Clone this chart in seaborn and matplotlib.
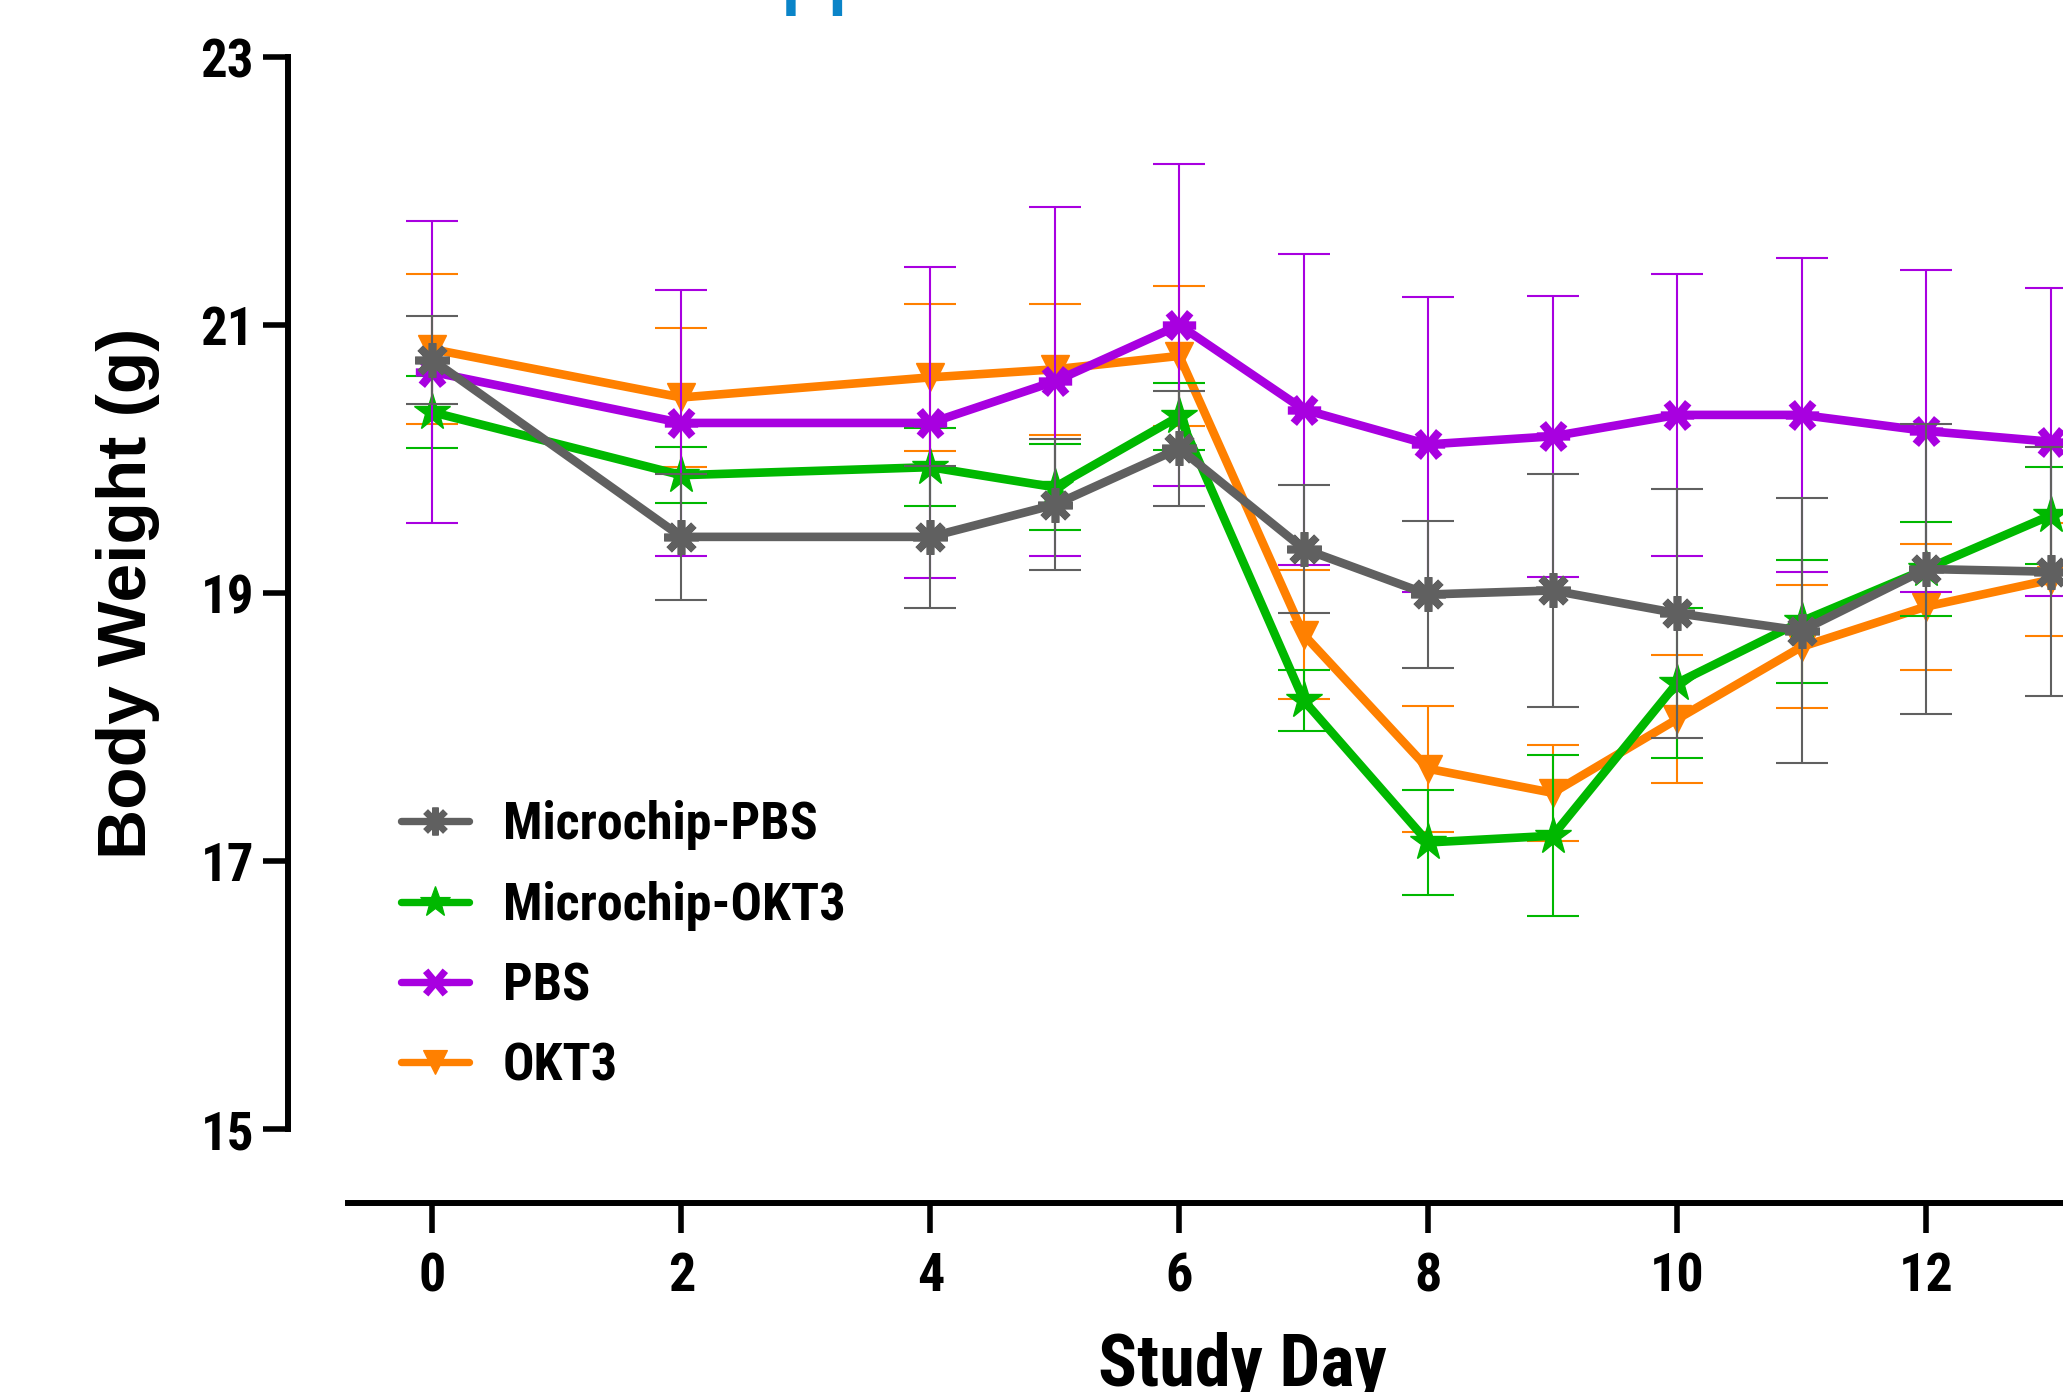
import matplotlib
matplotlib.use("Agg")
import matplotlib.pyplot as plt
from matplotlib import font_manager
from matplotlib.font_manager import FontProperties
from matplotlib.lines import Line2D
from matplotlib.path import Path
import numpy as np
import seaborn as sns
import pandas as pd

# ---------------- data ----------------
days = [0, 2, 4, 5, 6, 7, 8, 9, 10, 11, 12, 13]

mpbs_mean = [20.74, 19.42, 19.42, 19.66, 20.08, 19.33, 18.99, 19.02, 18.85, 18.72, 19.18, 19.16]
mpbs_sem = [0.33, 0.47, 0.53, 0.49, 0.43, 0.48, 0.55, 0.87, 0.93, 0.99, 1.08, 0.93]

mokt3_mean = [20.35, 19.88, 19.94, 19.79, 20.32, 18.20, 17.14, 17.19, 18.33, 18.79, 19.18, 19.58]
mokt3_sem = [0.27, 0.21, 0.29, 0.32, 0.25, 0.23, 0.39, 0.60, 0.56, 0.46, 0.35, 0.36]

pbs_mean = [20.65, 20.27, 20.27, 20.58, 21.00, 20.37, 20.11, 20.17, 20.33, 20.33, 20.21, 20.13]
pbs_sem = [1.13, 0.99, 1.16, 1.30, 1.20, 1.16, 1.10, 1.05, 1.05, 1.17, 1.20, 1.15]

okt3_mean = [20.82, 20.46, 20.61, 20.67, 20.77, 18.69, 17.69, 17.51, 18.06, 18.60, 18.90, 19.10]
okt3_sem = [0.56, 0.52, 0.55, 0.49, 0.52, 0.48, 0.47, 0.36, 0.48, 0.46, 0.47, 0.42]

group_names = ["Microchip-PBS", "Microchip-OKT3", "PBS", "OKT3"]
y_ticks = [15, 17, 19, 21, 23]
x_ticks = [0, 2, 4, 6, 8, 10, 12]

# ---------------- style ----------------
sns.set_style("white")
plt.rcParams["font.family"] = ["Liberation Sans", "DejaVu Sans"]
for k in ["text.color", "axes.labelcolor", "xtick.color", "ytick.color"]:
    plt.rcParams[k] = "black"

# look for a condensed bold face (the reference uses a narrow bold font)
narrow_file = None
for pref in ["Liberation Sans Narrow", "Roboto Condensed", "Open Sans Condensed",
             "Arial Narrow"]:
    for f in font_manager.fontManager.ttflist:
        if f.name == pref and (f.weight in ("bold", 700) or str(f.weight) == "700") \
                and f.style == "normal":
            narrow_file = f.fname
            break
    if narrow_file:
        break


def nfont(size):
    if narrow_file:
        return FontProperties(fname=narrow_file, size=size)
    return FontProperties(family=["Liberation Sans", "DejaVu Sans"],
                          weight="bold", size=size * 0.84)


# six-armed "X" symbol with a horizontal bar (as drawn in the reference)
_a = np.deg2rad(50)
x_star = Path([(-1, 0), (1, 0),
               (-np.cos(_a), -np.sin(_a)), (np.cos(_a), np.sin(_a)),
               (-np.cos(_a), np.sin(_a)), (np.cos(_a), -np.sin(_a))],
              [Path.MOVETO, Path.LINETO] * 3)

colors = {"Microchip-PBS": "#606060", "Microchip-OKT3": "#00b800",
          "PBS": "#a800e0", "OKT3": "#ff8000"}
markers = {"Microchip-PBS": (8, 2, 0), "Microchip-OKT3": "*",
           "PBS": x_star, "OKT3": "v"}
msize = {"Microchip-PBS": 25, "Microchip-OKT3": 28, "PBS": 24, "OKT3": 20}
mew = {"Microchip-PBS": 5.5, "Microchip-OKT3": 1.0, "PBS": 6.0, "OKT3": 1.0}
mfc = {g: ("none" if g == "PBS" else c) for g, c in colors.items()}

means = {"Microchip-PBS": mpbs_mean, "Microchip-OKT3": mokt3_mean,
         "PBS": pbs_mean, "OKT3": okt3_mean}
sems = {"Microchip-PBS": mpbs_sem, "Microchip-OKT3": mokt3_sem,
        "PBS": pbs_sem, "OKT3": okt3_sem}

W, H = 2063, 1392
fig = plt.figure(figsize=(W / 100, H / 100), dpi=100)
ax_left = 287.6 / W
ax_bottom = (H - 1203) / H
ax = fig.add_axes([ax_left, ax_bottom, 1 - ax_left, 1 - ax_bottom])

draw_order = ["OKT3", "Microchip-OKT3", "PBS", "Microchip-PBS"]
for i, g in enumerate(draw_order):
    df = pd.DataFrame({"day": days, "weight": means[g]})
    ax.errorbar(days, means[g], yerr=sems[g], fmt="none", ecolor=colors[g],
                elinewidth=1.5, capsize=19, capthick=1.5, zorder=2 + 2 * i)
    sns.lineplot(data=df, x="day", y="weight", ax=ax, color=colors[g],
                 linewidth=6.2, marker=markers[g], markersize=msize[g],
                 markeredgewidth=mew[g], markeredgecolor=colors[g],
                 markerfacecolor=mfc[g], zorder=3 + 2 * i, legend=False)

ax.set_xlim(-1.164, 13.10)
ax.set_ylim(14.45, 23.4255)
for s in ["top", "right"]:
    ax.spines[s].set_visible(False)
ax.spines["left"].set_bounds(15, 23)
ax.spines["bottom"].set_bounds(-0.68, 13.10)
for s in ["left", "bottom"]:
    ax.spines[s].set_linewidth(4.3)
    ax.spines[s].set_color("black")

ax.set_yticks(y_ticks)
ax.set_yticklabels([str(v) for v in y_ticks])
ax.set_xticks(x_ticks)
ax.set_xticklabels([str(v) for v in x_ticks])
ax.tick_params(axis="y", left=True, direction="out", length=17.7, width=4,
               pad=6.5, colors="black")
ax.tick_params(axis="x", bottom=True, direction="out", length=21.6, width=4,
               pad=13, colors="black")
for lab in ax.get_yticklabels():
    lab.set_fontproperties(nfont(38))
for lab in ax.get_xticklabels():
    lab.set_fontproperties(nfont(39))
ax.set_xlabel("")
ax.set_ylabel("")
ax.grid(False)

# axis titles
fig.text(128 / W, 1 - 593 / H, "Body Weight (g)", rotation=90, ha="center",
         va="center", fontsize=50, fontweight="bold",
         family=["Liberation Sans", "DejaVu Sans"])
fig.text(1242 / W, 1 - 1386 / H, "Study Day", ha="center", va="baseline",
         fontproperties=nfont(52))

# cut-off fragment of a blue heading at the very top
fig.text(814 / W, 1 - 16 / H, "H", ha="center", va="baseline", fontsize=72,
         color="#0a84c8", family=["Liberation Sans", "DejaVu Sans"])

# legend
lsize = {"Microchip-PBS": 20, "Microchip-OKT3": 23, "PBS": 22, "OKT3": 17}
handles = [Line2D([0], [0], color=colors[g], linewidth=5.3, marker=markers[g],
                  markersize=lsize[g], markeredgewidth=mew[g] * 0.85,
                  markeredgecolor=colors[g], markerfacecolor=mfc[g])
           for g in group_names]
leg = ax.legend(handles, group_names, loc="center left",
                bbox_to_anchor=(401 / W, 1 - 946 / H),
                bbox_transform=fig.transFigure, frameon=False,
                handlelength=1.3, handletextpad=0.66, labelspacing=0.585,
                borderpad=0, borderaxespad=0, prop=nfont(37.5))
for t in leg.get_texts():
    t.set_color("black")

fig.savefig("out.png", dpi=100)
